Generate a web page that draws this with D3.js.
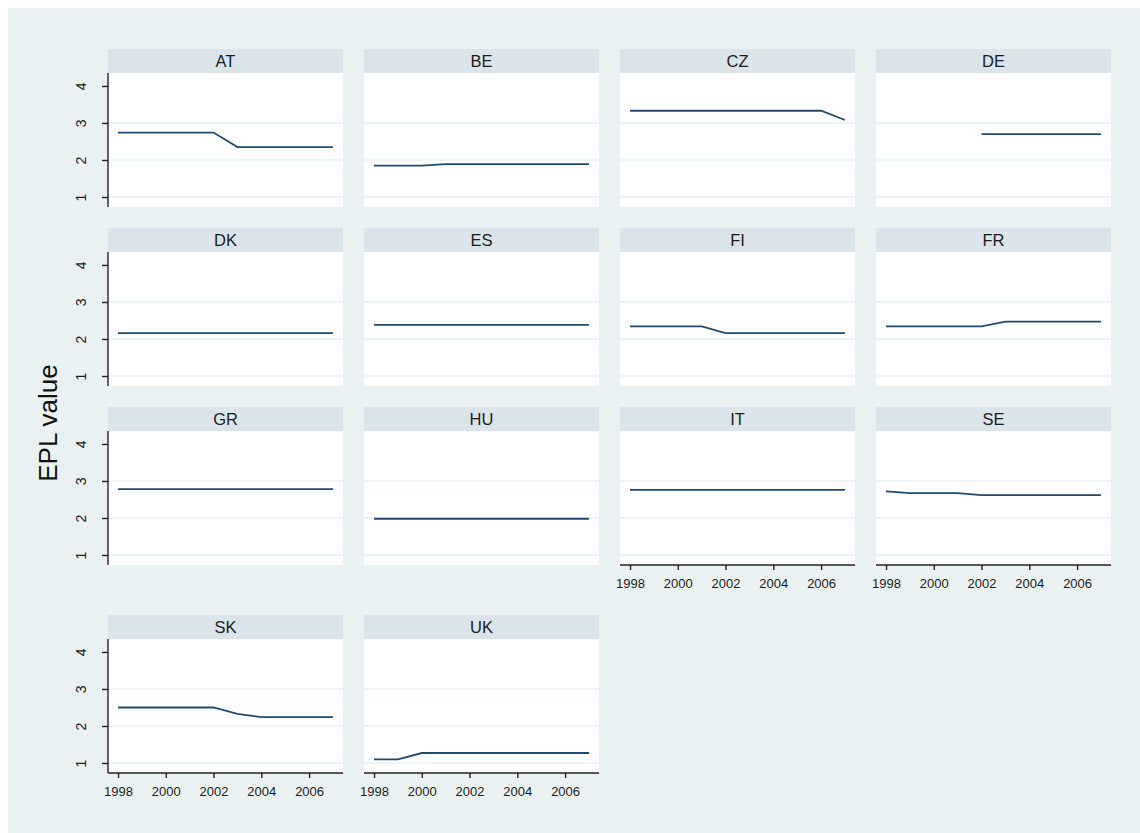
<!DOCTYPE html>
<html>
<head>
<meta charset="utf-8">
<script src="https://cdn.jsdelivr.net/npm/d3@7"></script>
<style>
  html, body { margin: 0; padding: 0; background: #ffffff; }
  svg { display: block; font-family: "Liberation Sans", Arial, sans-serif; }
</style>
</head>
<body>
<div id="chart"></div>
<script>
// EPL value by country, 1998-2007 (null = no data)
var years = [1998, 1999, 2000, 2001, 2002, 2003, 2004, 2005, 2006, 2007];
var countries = ["AT", "BE", "CZ", "DE", "DK", "ES", "FI", "FR", "GR", "HU", "IT", "SE", "SK", "UK"];

var epl_AT = [2.74, 2.74, 2.74, 2.74, 2.74, 2.35, 2.35, 2.35, 2.35, 2.35];
var epl_BE = [1.85, 1.85, 1.85, 1.89, 1.89, 1.89, 1.89, 1.89, 1.89, 1.89];
var epl_CZ = [3.33, 3.33, 3.33, 3.33, 3.33, 3.33, 3.33, 3.33, 3.33, 3.08];
var epl_DE = [null, null, null, null, 2.70, 2.70, 2.70, 2.70, 2.70, 2.70];
var epl_DK = [2.16, 2.16, 2.16, 2.16, 2.16, 2.16, 2.16, 2.16, 2.16, 2.16];
var epl_ES = [2.38, 2.38, 2.38, 2.38, 2.38, 2.38, 2.38, 2.38, 2.38, 2.38];
var epl_FI = [2.34, 2.34, 2.34, 2.34, 2.16, 2.16, 2.16, 2.16, 2.16, 2.16];
var epl_FR = [2.34, 2.34, 2.34, 2.34, 2.34, 2.47, 2.47, 2.47, 2.47, 2.47];
var epl_GR = [2.78, 2.78, 2.78, 2.78, 2.78, 2.78, 2.78, 2.78, 2.78, 2.78];
var epl_HU = [1.98, 1.98, 1.98, 1.98, 1.98, 1.98, 1.98, 1.98, 1.98, 1.98];
var epl_IT = [2.76, 2.76, 2.76, 2.76, 2.76, 2.76, 2.76, 2.76, 2.76, 2.76];
var epl_SE = [2.72, 2.67, 2.67, 2.67, 2.62, 2.62, 2.62, 2.62, 2.62, 2.62];
var epl_SK = [2.50, 2.50, 2.50, 2.50, 2.50, 2.33, 2.24, 2.24, 2.24, 2.24];
var epl_UK = [1.10, 1.10, 1.27, 1.27, 1.27, 1.27, 1.27, 1.27, 1.27, 1.27];

var yTicks = [1, 2, 3, 4];
var yGrid = [1, 2, 3];
var xTicks = [1998, 2000, 2002, 2004, 2006];
var yTitle = "EPL value";

var series = {
    AT: epl_AT, BE: epl_BE, CZ: epl_CZ, DE: epl_DE, DK: epl_DK, ES: epl_ES, FI: epl_FI,
    FR: epl_FR, GR: epl_GR, HU: epl_HU, IT: epl_IT, SE: epl_SE, SK: epl_SK, UK: epl_UK
};

var W = 1140, H = 833;
var opts = {
    left: 108, top: 49,
    panelW: 235, stepX: 256,
    stripH: 24, plotH: 134, stepY: 179,
    xAxisRoom: 29, ncol: 4
};
var colors = {
    bg: "#eaf1f3",
    strip: "#d9e5eb",
    grid: "#eaf1f3",
    line: "#1f4a70",
    axis: "#222222"
};

var svg = d3.select("#chart").append("svg")
    .attr("width", W)
    .attr("height", H);

svg.append("rect")
    .attr("x", 8).attr("y", 8)
    .attr("width", W - 8).attr("height", H - 8)
    .attr("fill", colors.bg);

var xScale = d3.scaleLinear().domain([1997.58, 2007.42]).range([0, opts.panelW]);
var yScale = d3.scaleLinear().domain([0.73, 4.35]).range([opts.plotH, 0]);

var line = d3.line()
    .defined(function(d) { return d.v != null; })
    .x(function(d) { return xScale(d.year); })
    .y(function(d) { return yScale(d.v); });

var n = countries.length;

countries.forEach(function(c, i) {
    var row = Math.floor(i / opts.ncol),
        col = i % opts.ncol;
    var px = opts.left + col * opts.stepX;
    var py = opts.top + row * opts.stepY + (row >= 3 ? opts.xAxisRoom : 0);

    var g = svg.append("g")
        .attr("transform", "translate(" + px + "," + py + ")");

    // strip with country name
    g.append("rect")
        .attr("width", opts.panelW)
        .attr("height", opts.stripH)
        .attr("fill", colors.strip);
    g.append("text")
        .attr("x", opts.panelW / 2)
        .attr("y", opts.stripH / 2)
        .attr("dy", "0.36em")
        .attr("text-anchor", "middle")
        .style("font-size", "16.5px")
        .style("fill", "#1c1c1c")
        .text(c);

    var plot = g.append("g")
        .attr("transform", "translate(0," + opts.stripH + ")");

    plot.append("rect")
        .attr("width", opts.panelW)
        .attr("height", opts.plotH)
        .attr("fill", "#ffffff");

    plot.selectAll("line.grid").data(yGrid).enter()
        .append("line")
        .attr("class", "grid")
        .attr("x1", 0)
        .attr("x2", opts.panelW)
        .attr("y1", function(d) { return yScale(d); })
        .attr("y2", function(d) { return yScale(d); })
        .style("stroke", colors.grid)
        .style("stroke-width", 1.5);

    var pts = years.map(function(y, k) { return {year: y, v: series[c][k]}; });
    plot.append("path")
        .datum(pts)
        .attr("d", line)
        .style("fill", "none")
        .style("stroke", colors.line)
        .style("stroke-width", 1.8);

    // y axis on first column
    if (col === 0) {
        var yAxisG = plot.append("g")
            .call(d3.axisLeft(yScale).tickValues(yTicks).tickSize(6).tickSizeOuter(0).tickFormat(d3.format("d")));
        yAxisG.select(".domain").attr("d", "M0,0V" + opts.plotH);
        yAxisG.selectAll("line, path").style("stroke", colors.axis).style("stroke-width", 1.4);
        yAxisG.selectAll("text")
            .attr("x", 0)
            .attr("y", -22)
            .attr("dy", null)
            .attr("transform", "rotate(-90)")
            .style("text-anchor", "middle")
            .style("font-size", "14px")
            .style("font-family", "Liberation Sans, Arial, sans-serif")
            .style("fill", "#1c1c1c");
    }

    // x axis on panels with nothing below
    if (i + opts.ncol >= n) {
        var xAxisG = plot.append("g")
            .attr("transform", "translate(0," + opts.plotH + ")")
            .call(d3.axisBottom(xScale).tickValues(xTicks).tickSize(5).tickSizeOuter(0).tickFormat(d3.format("d")).tickPadding(9));
        xAxisG.select(".domain").attr("d", "M0,0H" + opts.panelW);
        xAxisG.selectAll("line, path").style("stroke", colors.axis).style("stroke-width", 1.4);
        xAxisG.selectAll("text")
            .style("font-size", "13px")
            .style("font-family", "Liberation Sans, Arial, sans-serif")
            .style("fill", "#1c1c1c");
    }
});

// shared y title, centred on the plot rows
var plotTop = opts.top + opts.stripH,
    plotBottom = opts.top + 3 * opts.stepY + opts.xAxisRoom + opts.stripH + opts.plotH;
svg.append("text")
    .attr("transform", "translate(48," + ((plotTop + plotBottom) / 2) + ") rotate(-90)")
    .attr("dy", "0.36em")
    .attr("text-anchor", "middle")
    .style("font-size", "26px")
    .style("fill", "#111111")
    .text(yTitle);
</script>
</body>
</html>
